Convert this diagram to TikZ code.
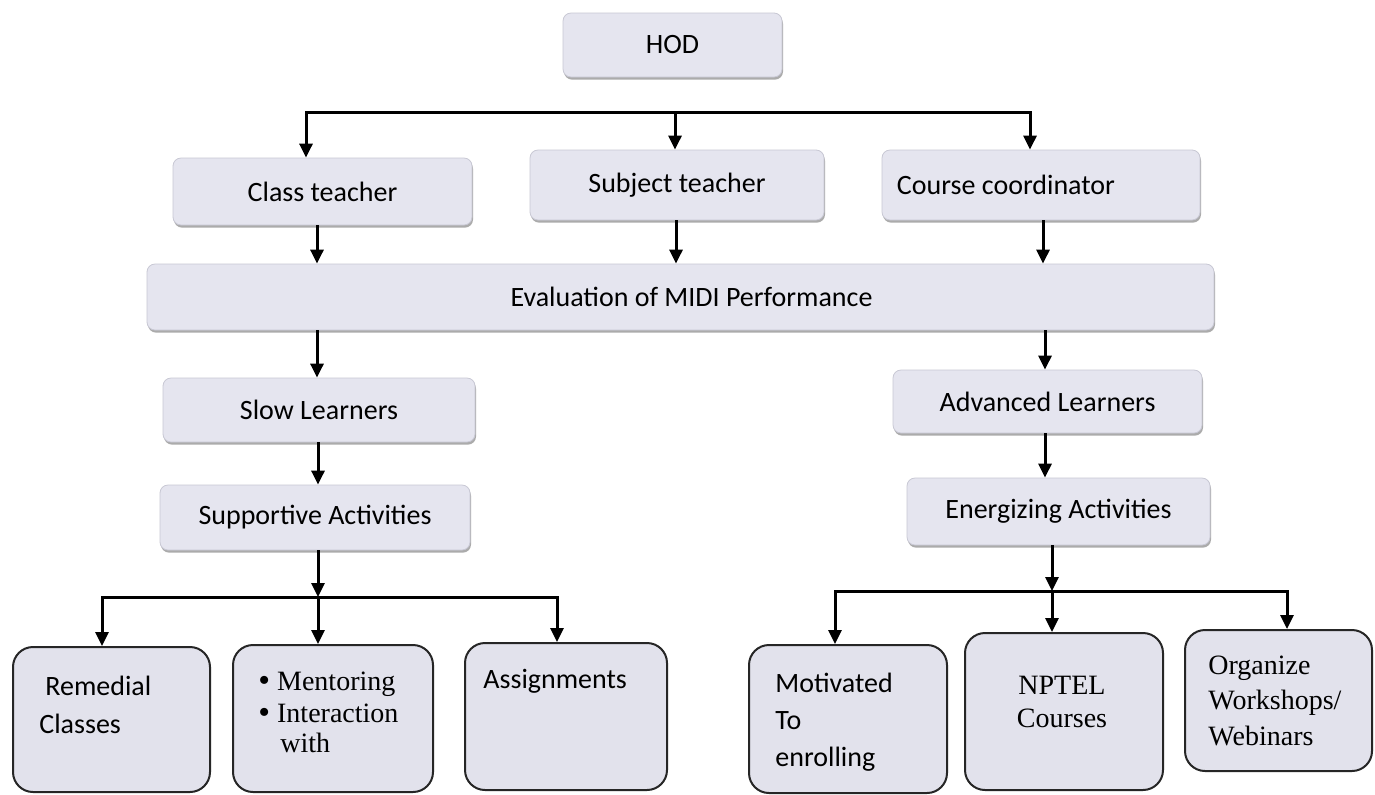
\documentclass[tikz,border=0pt]{standalone}
\usepackage{fontspec}
\setmainfont{Carlito}
\newfontfamily\serifface{Liberation Serif}
\usetikzlibrary{arrows.meta,shadows}
\definecolor{boxfill}{RGB}{229,229,239}
\definecolor{lowfill}{RGB}{226,226,236}
\definecolor{edgegray}{RGB}{200,200,212}
\newcommand{\bigbul}{\raisebox{-0.6pt}{\scalebox{1.2}{\textbullet}}}
\begin{document}
\begin{tikzpicture}[x=0.5pt,y=-0.5pt,
  upbox/.style={draw=edgegray, line width=0.4pt, fill=boxfill, rounded corners=4pt,
    inner sep=0pt, font=\fontsize{14}{17}\selectfont,
    drop shadow={shadow xshift=0.5pt, shadow yshift=-1.3pt, fill=black!55, opacity=0.6}},
  lowbox/.style={draw=black!85, line width=1pt, fill=lowfill, rounded corners=10pt, inner sep=0pt},
  txt/.style={anchor=base west, inner sep=0pt, font=\fontsize{14}{17}\selectfont},
  stxt/.style={anchor=base west, inner sep=0pt, font=\serifface\fontsize{14}{17}\selectfont},
  ln/.style={line width=1.5pt, black},
  arr/.style={ln, -{Triangle[length=7pt,width=6.5pt]}},
  both/.style={ln, {Triangle[length=7pt,width=6.5pt]}-{Triangle[length=7pt,width=6.5pt]}}]
\useasboundingbox (0,0) rectangle (1375,794);
\fill[white] (0,0) rectangle (1375,794);

% upper boxes
\node[upbox, minimum width=109.5pt, minimum height=32pt] (hod) at (672.5,45) {HOD};
\node[upbox, minimum width=149.5pt, minimum height=33.5pt] (class) at (322.5,191.5) {Class teacher};
\node[upbox, minimum width=147pt, minimum height=35pt] (subj) at (677,185) {Subject teacher};
\node[upbox, minimum width=159pt, minimum height=35pt] (course) at (1041,185) {Course coordinator\hspace*{35pt}};
\node[upbox, minimum width=533.5pt, minimum height=33pt] (eval) at (680.5,297) {\hspace*{11pt}Evaluation of MIDI Performance};
\node[upbox, minimum width=156pt, minimum height=32pt] (slow) at (319,410) {Slow Learners};
\node[upbox, minimum width=155pt, minimum height=32.5pt] (supp) at (315,517.5) {Supportive Activities};
\node[upbox, minimum width=154.5pt, minimum height=31.5pt] (adv) at (1047.5,401.5) {Advanced Learners};
\node[upbox, minimum width=151.5pt, minimum height=33.5pt] (energ) at (1058.5,511.5) {Energizing Activities};

% lower boxes
\node[lowbox, minimum width=98.5pt, minimum height=72.5pt] (remed) at (111.5,719.5) {};
\node[lowbox, minimum width=100pt, minimum height=73.5pt] (ment) at (333,718.5) {};
\node[lowbox, minimum width=101pt, minimum height=73.5pt] (assign) at (566,716.5) {};
\node[lowbox, minimum width=99pt, minimum height=74pt] (mot) at (848,719) {};
\node[lowbox, minimum width=99pt, minimum height=78.5pt] (nptel) at (1064,711.5) {};
\node[lowbox, minimum width=93.5pt, minimum height=70.5pt] (org) at (1278.5,700.5) {};

% lower box texts
\node[txt] (remedA) at (45,695) {Remedial};
\node[txt] (remedB) at (39,733) {Classes};
\node[stxt] (mentA) at (258,690) {\bigbul\ Mentoring};
\node[stxt] (mentB) at (258,722) {\bigbul\ Interaction};
\node[stxt] (mentC) at (280,752) {with};
\node[txt] (assignA) at (483,688) {Assignments};
\node[txt] (motA) at (775,692) {Motivated};
\node[txt] (motB) at (775,729) {To};
\node[txt] (motC) at (775,766) {enrolling};
\node[stxt, anchor=base] (nptelA) at (1062,694) {NPTEL};
\node[stxt, anchor=base] (nptelB) at (1062,727) {Courses};
\node[stxt] (orgA) at (1208,674) {Organize};
\node[stxt] (orgB) at (1208,709) {Workshops/};
\node[stxt] (orgC) at (1208,745) {Webinars};

% top bus
\coordinate (busAl) at (306,112);
\coordinate (busAm) at (675,112);
\coordinate (busAr) at (1030,112);
\draw[both] (busAl |- class.north) -- (busAl) -- (busAr) -- (busAr |- course.north);
\draw[arr] (busAm) -- (busAm |- subj.north);

% verticals
\coordinate (xa) at (317,0);
\coordinate (xb) at (676,0);
\coordinate (xc) at (1043,0);
\coordinate (xd) at (1045,0);
\coordinate (xe) at (318,0);
\draw[arr] (xa |- class.south) -- (xa |- eval.north);
\draw[arr] (xb |- subj.south) -- (xb |- eval.north);
\draw[arr] (xc |- course.south) -- (xc |- eval.north);
\draw[arr] (xa |- eval.south) -- (xa |- slow.north);
\draw[arr] (xd |- eval.south) -- (xd |- adv.north);
\draw[arr] (xe |- slow.south) -- (xe |- supp.north);
\draw[arr] (xd |- adv.south) -- (xd |- energ.north);

% left lower bus
\coordinate (busBl) at (102,597);
\coordinate (busBm) at (318,597);
\coordinate (busBr) at (557,597);
\draw[arr] (busBm |- supp.south) -- (busBm);
\draw[both] (busBl |- remed.north) -- (busBl) -- (busBr) -- (busBr |- assign.north);
\draw[arr] (busBm) -- (busBm |- ment.north);

% right lower bus
\coordinate (busCl) at (835,591);
\coordinate (busCm) at (1052,591);
\coordinate (busCr) at (1287,591);
\draw[arr] (busCm |- energ.south) -- (busCm);
\draw[both] (busCl |- mot.north) -- (busCl) -- (busCr) -- (busCr |- org.north);
\draw[arr] (busCm) -- (busCm |- nptel.north);
\end{tikzpicture}
\end{document}
